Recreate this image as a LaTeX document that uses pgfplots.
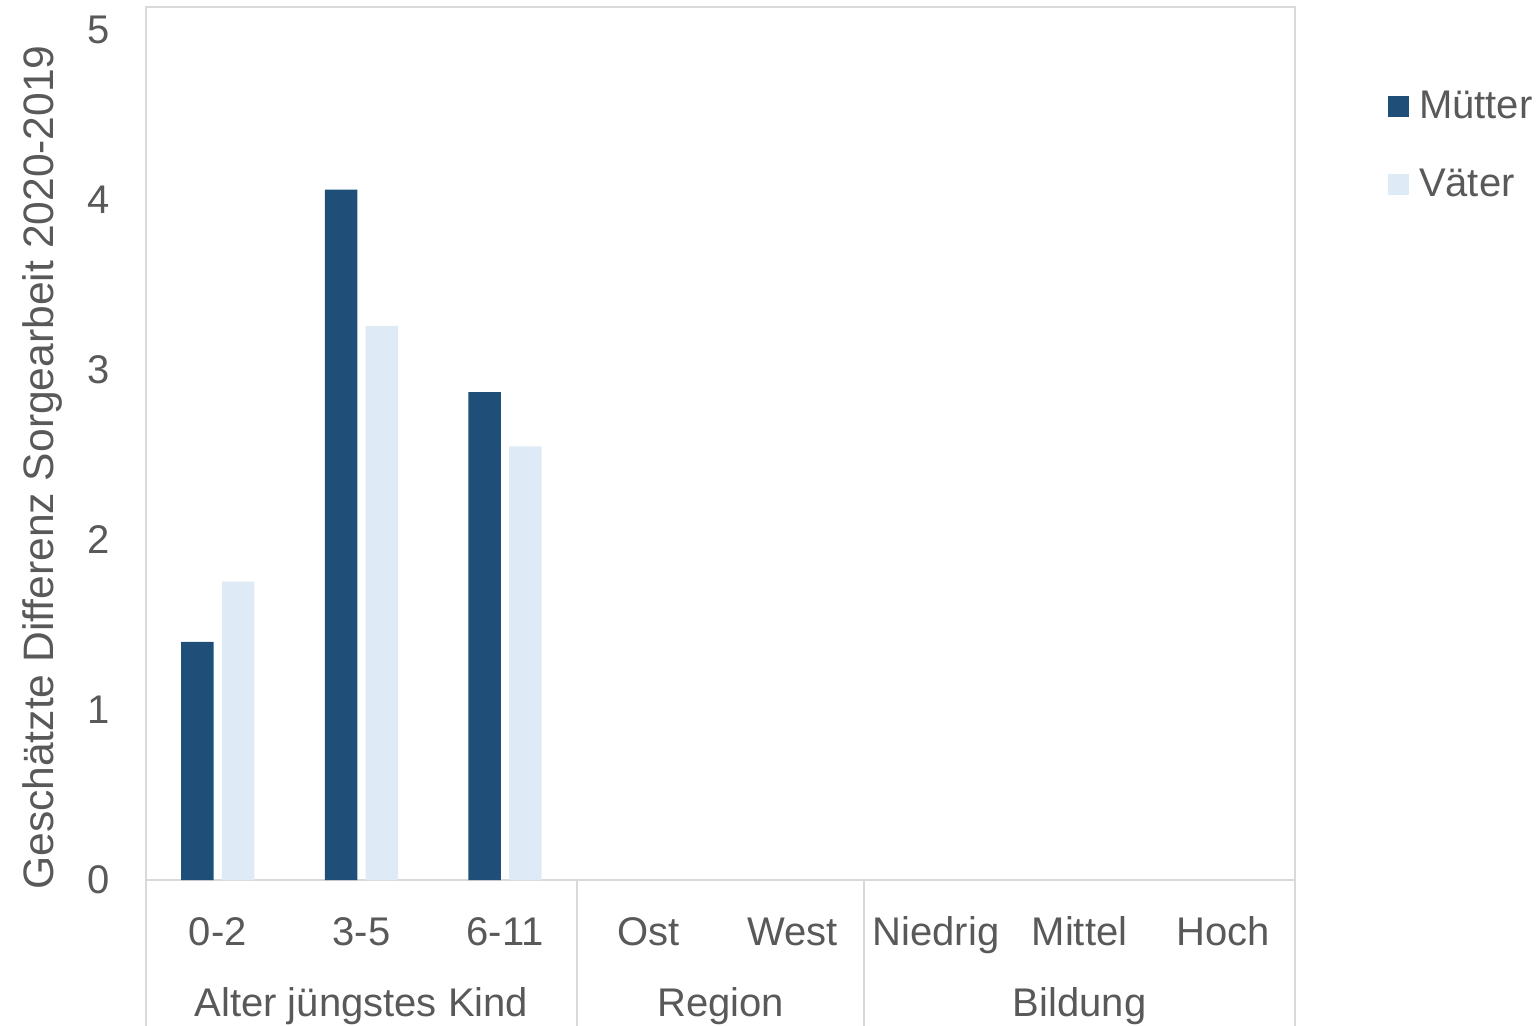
\documentclass[border=0pt]{standalone}
\usepackage{pgfplots}
\pgfplotsset{compat=1.18}
\usepackage{fontspec}
\setmainfont{Liberation Sans}
\definecolor{mutter}{HTML}{1F4E79}
\definecolor{vater}{HTML}{DEEBF7}
\definecolor{txt}{HTML}{595959}
\definecolor{frame}{HTML}{D9D9D9}
\begin{document}
\begin{tikzpicture}
\path[use as bounding box] (-73bp,-73bp) rectangle (695.5bp,440bp);
\begin{axis}[
  at={(0,0)}, anchor=south west,
  scale only axis, width=574.5bp, height=436.5bp,
  xmin=-0.5, xmax=7.5, ymin=0, ymax=5.135,
  ytick={0,1,2,3,4,5},
  xtick={0,1,2,3,4,5,6,7},
  xticklabels={0-2,3-5,6-11,Ost,West,Niedrig,Mittel,Hoch},
  major tick length=0pt,
  axis line style={frame, line width=1bp},
  tick label style={font=\fontsize{20bp}{24bp}\selectfont, text=txt},
  /pgf/number format/assume math mode=true,
  yticklabel style={anchor=east, inner sep=0pt, xshift=-18bp},
  xticklabel style={anchor=base, inner sep=0pt, yshift=-32.5bp},
  ylabel={Geschätzte Differenz Sorgearbeit 2020-2019},
  ylabel style={font=\fontsize{21.3bp}{25bp}\selectfont, text=txt, inner sep=0pt,
    at={(axis description cs:-0.0809,0.4725)}, anchor=base, rotate=0},
  ybar, bar width=0.226,
  clip=false,
  legend style={draw=none, fill=none, at={(1,1)}, anchor=north west,
    xshift=46.5bp, yshift=-42bp, font=\fontsize{20bp}{24bp}\selectfont, text=txt,
    row sep=23.7bp, column sep=5bp, inner sep=0pt, outer sep=0pt, nodes={inner sep=0pt}},
  legend cell align=left,
  legend image code/.code={\fill[#1, draw=none] (0bp,-5.25bp) rectangle (10.5bp,5.25bp);},
]
\addplot[fill=mutter, draw=none, bar shift=-0.142] coordinates {(0,1.40) (1,4.06) (2,2.87)};
\addlegendentry{Mütter}
\addplot[fill=vater, draw=none, bar shift=0.142] coordinates {(0,1.755) (1,3.26) (2,2.55)};
\addlegendentry{Väter}
\draw[frame, line width=1bp] (axis cs:-0.5,0) -- ([yshift=-80bp]axis cs:-0.5,0);
\draw[frame, line width=1bp] (axis cs:2.5,0) -- ([yshift=-80bp]axis cs:2.5,0);
\draw[frame, line width=1bp] (axis cs:4.5,0) -- ([yshift=-80bp]axis cs:4.5,0);
\draw[frame, line width=1bp] (axis cs:7.5,0) -- ([yshift=-80bp]axis cs:7.5,0);
\node[anchor=base, inner sep=0pt, font=\fontsize{20bp}{24bp}\selectfont, text=txt] at ([yshift=-68.3bp]axis cs:1,0) {Alter jüngstes Kind};
\node[anchor=base, inner sep=0pt, font=\fontsize{20bp}{24bp}\selectfont, text=txt] at ([yshift=-68.3bp]axis cs:3.5,0) {Region};
\node[anchor=base, inner sep=0pt, font=\fontsize{20bp}{24bp}\selectfont, text=txt] at ([yshift=-68.3bp]axis cs:6,0) {Bildung};
\end{axis}
\end{tikzpicture}
\end{document}
